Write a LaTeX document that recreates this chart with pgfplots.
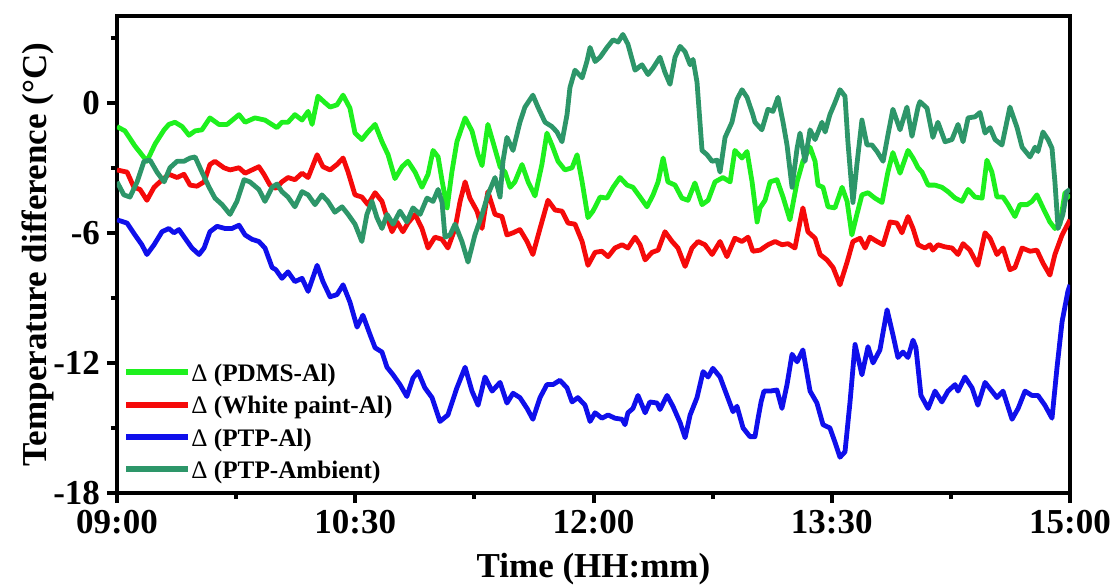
\documentclass[border=0pt]{standalone}
\usepackage{fontspec}
\setmainfont{Liberation Serif}
\usepackage{pgfplots}
\pgfplotsset{compat=1.18}

\definecolor{cPDMS}{RGB}{30,240,30}
\definecolor{cWhite}{RGB}{245,10,10}
\definecolor{cPTP}{RGB}{15,15,235}
\definecolor{cAmb}{RGB}{45,150,105}

\newcommand\bigfont{\fontsize{17.5}{21}\selectfont\bfseries}

\begin{document}
\begin{tikzpicture}
\begin{axis}[
  scale only axis, width=476.5pt, height=238.5pt,
  xmin=0, xmax=360, ymin=-18, ymax=4,
  axis line style={line width=2pt},
  every tick/.style={black, line width=2pt},
  tick align=outside, tick pos=left,
  major tick length=5pt, minor tick length=3pt,
  xtick={0,90,180,270,360},
  xticklabels={09:00,10:30,12:00,13:30,15:00},
  minor xtick={45,135,225,315},
  ytick={-18,-12,-6,0}, yticklabels={-18,-12,-6,0},
  minor ytick={-15,-9,-3,3},
  ticklabel style={font=\bigfont},
  xlabel={Time (HH:mm)},
  ylabel={Temperature difference (°C)},
  label style={font=\bigfont},
  xlabel style={at={(axis description cs:0.5,-0.1761)}, anchor=base},
  ylabel style={at={(axis description cs:-0.0745,0.5)}, anchor=base},
  legend cell align=left,
  legend style={draw=none, fill=none, at={(0,0)}, anchor=south west,
    xshift=3pt, yshift=4.5pt, inner sep=0pt, row sep=4.7pt,
    font=\fontsize{12.6}{15}\selectfont\bfseries,
    nodes={inner sep=0pt, text height=9pt, text depth=2.5pt},
    cells={anchor=base west},
    /tikz/every even column/.append style={column sep=2.85pt}},
  legend image code/.code={\draw[#1, line width=3pt, line cap=butt] (0pt,4.6pt) -- (31pt,4.6pt);},
  every axis plot/.append style={line width=2.4pt, line join=round},
]
\coordinate (bl) at (rel axis cs:0,0);
\coordinate (tr) at (rel axis cs:1,1);

% PDMS minus aluminium
\addplot[cPDMS] coordinates {
(0,-1.1) (3,-1.3) (6.8,-2.0) (9.4,-2.4) (11.3,-2.7) (14.4,-1.9) (17.8,-1.25) (19.6,-1.0) (21.9,-0.9) (24.6,-1.1) (27.2,-1.5) (29.5,-1.3) (32.1,-1.25) (35.1,-0.7) (38.5,-1.0) (41.6,-1.0) (46.1,-0.55) (48.4,-0.9) (52.1,-0.7) (55.9,-0.8) (60.4,-1.15) (62.3,-0.9) (64.6,-0.9) (67.2,-0.55) (69.9,-0.8) (72.2,-0.4) (73.7,-1.0) (75.9,0.3) (78.6,0.0) (80.5,-0.2) (83.1,-0.1) (85.4,0.35) (88.0,-0.25) (89.9,-1.4) (92.5,-1.7) (94.8,-1.35) (97.5,-1.0) (100.1,-1.8) (102.4,-2.4) (105.0,-3.5) (107.7,-2.95) (109.9,-2.7) (112.6,-3.2) (115.2,-3.9) (117.5,-3.3) (119.4,-2.2) (121.3,-2.5) (122.8,-3.6) (124.7,-4.85) (126.5,-3.2) (128.4,-1.8) (131.5,-0.7) (134.1,-1.3) (136.4,-2.4) (137.9,-2.9) (140.1,-1.0) (142.0,-1.8) (144.7,-2.95) (146.6,-3.2) (148.5,-3.9) (150.3,-3.65) (153.0,-2.85) (155.3,-3.65) (157.9,-4.3) (160.5,-2.85) (162.4,-1.4) (164.3,-1.95) (166.6,-2.7) (169.2,-3.1) (171.9,-3.0) (173.8,-2.4) (175.7,-3.65) (177.9,-5.3) (179.8,-5.0) (182.5,-4.35) (185.1,-4.4) (187.4,-3.9) (190.0,-3.45) (192.7,-3.8) (194.9,-3.9) (197.6,-4.35) (200.2,-4.8) (202.5,-4.25) (204.4,-3.65) (206.3,-2.55) (208.1,-3.65) (210.8,-3.8) (213.4,-4.4) (215.7,-4.5) (218.3,-3.7) (221.0,-4.7) (223.3,-4.5) (225.9,-3.65) (228.9,-3.45) (231.6,-3.65) (233.4,-2.2) (236.1,-2.55) (238.0,-2.25) (239.9,-3.65) (241.8,-5.5) (242.9,-4.85) (244.8,-4.5) (246.7,-3.65) (249.3,-3.55) (251.6,-4.35) (254.2,-5.4) (256.9,-3.65) (259.1,-2.7) (261.8,-2.05) (263.7,-2.7) (264.8,-3.8) (266.7,-3.9) (268.6,-4.8) (271.2,-4.85) (273.9,-3.9) (275.8,-4.55) (277.6,-6.1) (279.5,-5.15) (281.4,-4.25) (283.7,-4.15) (286.3,-4.4) (289.0,-4.6) (291.2,-3.2) (293.1,-2.3) (295.8,-3.25) (298.8,-2.2) (300.7,-2.55) (302.6,-3.0) (304.1,-3.2) (306.4,-3.8) (309.0,-3.8) (311.6,-3.9) (313.9,-4.1) (316.6,-4.4) (319.2,-4.55) (321.5,-4.0) (324.1,-4.35) (326.8,-4.4) (328.6,-2.65) (330.5,-3.2) (332.4,-4.35) (334.7,-4.35) (336.6,-4.7) (339.2,-5.25) (341.1,-4.7) (343.8,-4.7) (345.6,-4.55) (347.5,-4.25) (349.8,-4.85) (352.4,-5.5) (354.3,-5.8) (356.2,-5.6) (358.1,-4.15) (360,-4.4)
};
\addlegendentry{{\mdseries Δ} (PDMS-Al)}

% White paint minus aluminium
\addplot[cWhite] coordinates {
(0,-3.1) (3.8,-3.2) (6.4,-3.9) (8.7,-4.0) (11.3,-4.5) (14.0,-3.9) (16.2,-3.65) (19.6,-3.3) (22.7,-3.45) (25.3,-3.3) (27.6,-3.8) (30.2,-3.85) (32.9,-3.65) (35.1,-2.85) (37.0,-2.7) (40.4,-3.0) (42.7,-3.1) (46.1,-3.0) (48.4,-3.25) (51.0,-3.1) (53.6,-2.95) (55.5,-3.3) (57.8,-3.8) (60.0,-3.95) (62.3,-3.65) (64.6,-3.45) (67.2,-3.55) (69.9,-3.25) (72.2,-3.45) (75.6,-2.4) (77.8,-2.95) (80.5,-3.1) (83.1,-2.85) (85.4,-2.55) (87.3,-3.2) (89.9,-4.25) (92.5,-4.35) (94.8,-4.7) (97.5,-4.15) (100.1,-4.55) (102.0,-5.3) (103.9,-5.95) (105.8,-5.5) (108.0,-5.95) (109.9,-5.55) (112.6,-5.15) (115.2,-5.8) (117.5,-6.7) (120.1,-6.2) (122.8,-6.3) (125.0,-6.7) (127.7,-5.8) (129.6,-4.55) (131.5,-3.65) (133.3,-4.4) (136.0,-5.0) (137.9,-5.8) (140.1,-4.1) (142.8,-5.15) (145.4,-5.25) (147.3,-6.1) (149.6,-6.0) (152.2,-5.85) (154.9,-6.4) (157.1,-7.0) (159.8,-5.8) (162.8,-4.5) (165.5,-4.95) (168.1,-5.0) (170.4,-5.55) (173.0,-5.6) (175.7,-6.4) (177.9,-7.5) (180.6,-6.9) (183.2,-6.85) (185.5,-7.1) (188.1,-6.7) (190.8,-6.55) (193.0,-6.7) (195.7,-6.2) (197.6,-6.55) (199.5,-7.25) (202.1,-6.9) (204.4,-6.8) (207.0,-5.95) (209.7,-6.4) (211.9,-6.7) (214.6,-7.55) (217.2,-6.7) (219.5,-6.4) (222.1,-6.55) (224.8,-7.0) (227.8,-6.4) (230.4,-7.1) (233.4,-6.25) (236.1,-6.4) (238.4,-6.2) (240.2,-6.85) (242.9,-6.8) (245.9,-6.55) (248.6,-6.4) (251.2,-6.55) (253.5,-6.5) (256.1,-6.7) (258.0,-5.5) (259.1,-4.85) (261.0,-5.95) (263.7,-6.25) (265.6,-7.0) (268.2,-7.25) (270.5,-7.6) (273.1,-8.4) (275.8,-7.35) (278.0,-6.4) (280.7,-6.25) (282.6,-6.7) (284.4,-6.2) (287.1,-6.4) (289.4,-6.55) (292.0,-5.5) (294.6,-5.55) (296.5,-6.0) (298.8,-5.25) (300.7,-5.8) (302.6,-6.55) (305.2,-6.7) (307.1,-6.55) (308.2,-6.8) (310.1,-6.55) (312.8,-6.65) (315.4,-6.7) (317.7,-7.0) (319.6,-6.5) (322.2,-6.8) (325.2,-7.5) (327.9,-6.0) (329.8,-6.25) (332.4,-7.0) (334.7,-6.7) (337.3,-7.7) (339.2,-7.6) (341.9,-6.7) (344.9,-6.85) (347.5,-6.8) (349.8,-7.4) (352.4,-7.95) (354.3,-7.0) (357.0,-6.1) (360,-5.4)
};
\addlegendentry{{\mdseries Δ} (White paint-Al)}

% PTP minus aluminium
\addplot[cPTP] coordinates {
(0,-5.4) (3.8,-5.55) (6.8,-6.1) (9.4,-6.55) (11.3,-7.0) (14.0,-6.55) (17.0,-5.95) (19.6,-5.8) (21.5,-6.0) (23.4,-5.85) (25.7,-6.25) (28.3,-6.7) (31.0,-7.0) (32.9,-6.7) (35.1,-5.95) (37.8,-5.7) (40.8,-5.8) (43.4,-5.8) (46.1,-5.65) (48.4,-6.1) (51.0,-6.3) (53.6,-6.4) (55.9,-6.7) (58.6,-7.6) (60.0,-7.7) (62.3,-8.1) (64.6,-7.8) (67.2,-8.25) (69.9,-8.1) (72.2,-8.7) (75.6,-7.5) (77.8,-8.25) (80.5,-8.95) (83.1,-8.85) (85.4,-8.4) (88.0,-9.2) (90.7,-10.35) (92.9,-9.8) (95.6,-10.7) (97.5,-11.3) (100.1,-11.5) (102.0,-12.2) (104.3,-12.55) (106.9,-13.0) (109.5,-13.55) (111.8,-12.7) (113.7,-12.4) (116.3,-13.15) (119.0,-13.6) (120.1,-14.0) (122.0,-14.7) (125.0,-14.4) (128.4,-13.15) (131.5,-12.2) (134.1,-13.3) (136.4,-13.95) (139.0,-12.65) (141.7,-13.3) (144.7,-12.9) (147.3,-13.85) (149.6,-13.4) (152.2,-13.6) (154.9,-14.1) (157.1,-14.6) (159.8,-13.6) (162.4,-13.0) (164.7,-13.0) (167.3,-12.8) (170.0,-13.15) (171.9,-13.8) (174.1,-13.6) (176.8,-13.95) (178.7,-14.7) (180.6,-14.3) (183.2,-14.55) (185.5,-14.4) (188.1,-14.55) (190.8,-14.6) (191.9,-14.85) (193.0,-14.3) (194.9,-14.1) (196.8,-13.5) (199.5,-14.3) (201.3,-13.8) (204.0,-13.85) (205.1,-14.15) (207.8,-13.5) (210.0,-14.0) (212.7,-14.75) (214.6,-15.45) (216.5,-14.4) (219.1,-13.6) (221.4,-12.4) (223.3,-12.65) (225.1,-12.25) (227.8,-12.65) (230.4,-13.5) (232.7,-14.25) (234.2,-14.0) (236.5,-15.0) (239.1,-15.4) (241.0,-15.4) (242.1,-14.6) (243.3,-13.8) (244.4,-13.3) (246.7,-13.3) (249.3,-13.25) (251.2,-14.1) (253.1,-13.0) (255.0,-11.6) (256.9,-11.95) (259.1,-11.4) (261.8,-13.3) (264.4,-13.85) (266.7,-14.85) (269.3,-15.0) (271.2,-15.65) (273.1,-16.35) (275.0,-16.1) (276.9,-13.8) (278.8,-11.15) (281.4,-12.55) (283.7,-11.25) (285.6,-12.0) (288.2,-11.4) (290.9,-9.55) (293.1,-10.7) (295.0,-11.75) (296.9,-11.5) (298.8,-11.75) (300.7,-10.95) (301.8,-11.3) (303.7,-13.5) (306.4,-14.1) (309.0,-13.3) (311.6,-13.8) (313.9,-13.3) (316.6,-13.0) (317.7,-13.3) (320.3,-12.65) (323.0,-13.15) (325.2,-13.95) (327.9,-12.9) (330.5,-13.3) (332.4,-13.6) (334.7,-13.3) (338.1,-14.6) (340.4,-14.1) (343.0,-13.3) (345.6,-13.5) (347.9,-13.5) (350.5,-13.95) (353.2,-14.55) (355.1,-12.2) (357.0,-10.1) (359.2,-8.7) (360,-8.4)
};
\addlegendentry{{\mdseries Δ} (PTP-Al)}

% PTP minus ambient air
\addplot[cAmb] coordinates {
(0,-3.65) (2.6,-4.25) (4.9,-4.35) (7.6,-3.65) (10.2,-2.7) (12.5,-2.65) (15.1,-3.2) (17.8,-3.65) (20.0,-3.0) (22.7,-2.7) (25.3,-2.7) (27.6,-2.55) (29.5,-2.5) (32.1,-3.2) (34.8,-3.9) (37.0,-4.4) (39.7,-4.7) (42.7,-5.15) (45.3,-4.55) (48.0,-3.55) (50.2,-3.65) (53.6,-4.0) (55.9,-4.55) (58.6,-3.9) (60.4,-3.75) (62.3,-4.1) (64.6,-4.35) (67.2,-4.8) (69.9,-4.1) (72.2,-4.25) (74.8,-4.7) (77.4,-4.25) (79.7,-4.55) (82.3,-5.05) (85.0,-4.8) (87.3,-5.15) (89.9,-5.6) (92.5,-6.4) (94.4,-5.15) (96.3,-4.55) (98.2,-5.3) (100.1,-5.8) (102.0,-5.15) (104.3,-5.6) (106.9,-5.0) (109.5,-5.5) (111.8,-4.85) (114.5,-5.15) (117.1,-4.4) (119.4,-4.55) (121.3,-4.0) (122.8,-4.6) (123.9,-6.2) (125.8,-6.1) (127.7,-5.6) (130.3,-6.4) (132.6,-7.35) (135.2,-6.1) (137.9,-5.15) (140.1,-4.25) (142.8,-3.45) (144.7,-4.35) (145.8,-2.7) (147.3,-1.6) (149.6,-2.2) (152.2,-0.9) (154.1,-0.2) (157.1,0.35) (159.0,-0.2) (161.7,-0.9) (164.3,-1.1) (166.2,-1.35) (168.1,-1.8) (170.0,-0.55) (171.1,0.7) (173.0,1.5) (175.7,1.15) (177.5,1.9) (178.7,2.55) (180.6,1.9) (182.5,2.1) (185.1,2.55) (187.4,2.9) (189.3,2.8) (191.1,3.15) (193.0,2.7) (195.7,1.5) (198.3,1.75) (200.6,1.3) (202.5,1.6) (205.1,2.1) (207.0,1.4) (208.9,0.85) (210.8,2.1) (212.7,2.6) (214.6,2.35) (216.5,1.75) (217.6,2.0) (219.1,0.95) (221.0,-2.2) (222.9,-2.4) (224.8,-2.7) (226.7,-2.65) (227.8,-3.2) (229.7,-1.6) (232.3,-0.9) (234.2,0.15) (236.1,0.6) (238.0,0.25) (240.2,-0.55) (241.0,-0.9) (243.6,-1.25) (245.9,-0.3) (247.8,-0.4) (249.7,0.25) (251.6,-0.9) (253.1,-1.95) (255.0,-3.9) (256.9,-2.1) (258.0,-1.4) (259.9,-2.7) (261.8,-1.25) (263.7,-1.7) (266.3,-0.9) (267.5,-1.35) (269.3,-0.55) (271.2,0.0) (273.1,0.6) (275.0,0.3) (276.1,-1.8) (278.0,-4.6) (279.5,-2.85) (281.4,-0.8) (283.3,-1.95) (285.2,-1.95) (287.1,-2.25) (289.4,-2.7) (291.2,-1.5) (293.1,-0.3) (295.8,-1.25) (298.4,-0.2) (300.3,-1.55) (302.6,-0.2) (303.3,0.05) (306.0,-0.25) (308.2,-1.6) (310.1,-0.9) (312.8,-1.8) (315.4,-1.7) (317.7,-1.0) (319.6,-1.8) (321.5,-0.7) (324.1,-0.65) (326.0,-0.45) (327.9,-1.4) (329.8,-1.15) (331.7,-1.7) (334.3,-1.95) (337.3,-0.2) (340.0,-1.15) (341.9,-2.05) (344.9,-2.5) (346.8,-2.05) (347.9,-2.25) (349.8,-1.35) (351.7,-1.7) (353.2,-2.1) (354.3,-3.65) (355.5,-5.8) (357.3,-5.15) (358.8,-4.1) (360,-4.0)
};
\addlegendentry{{\mdseries Δ} (PTP-Ambient)}
\end{axis}
\pgfresetboundingbox
\path[use as bounding box] ([shift={(-58.5pt,-45.5pt)}]bl) rectangle ([shift={(24pt,8pt)}]tr);
\end{tikzpicture}
\end{document}
